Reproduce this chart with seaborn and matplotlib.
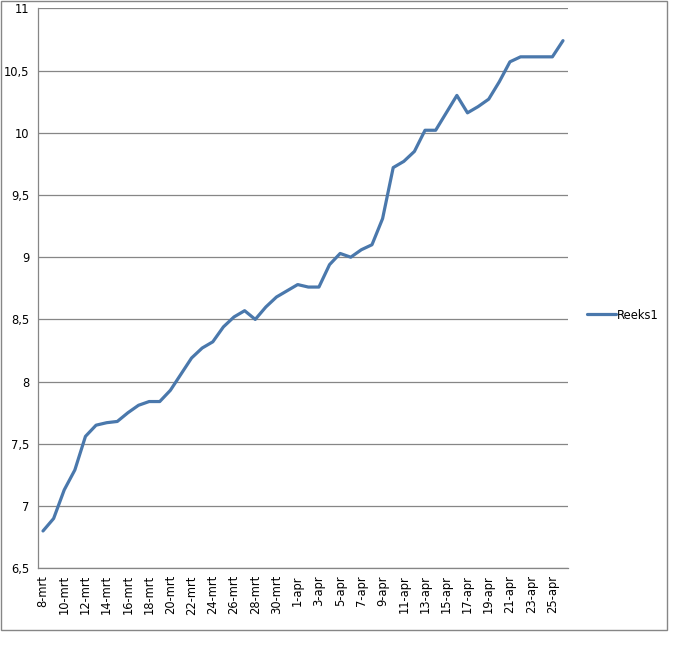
import matplotlib
matplotlib.use("Agg")
import matplotlib.pyplot as plt
import numpy as np
import seaborn as sns
from matplotlib.patches import Rectangle

# days 8-mrt .. 26-apr
days = list(range(8, 32)) + list(range(1, 27))
months = ["mrt"] * 24 + ["apr"] * 26
labels = [f"{d}-{m}" for d, m in zip(days, months)]

values = [6.80, 6.90, 7.13, 7.29, 7.56, 7.65, 7.67, 7.68, 7.75, 7.81,
          7.84, 7.84, 7.93, 8.06, 8.19, 8.27, 8.32, 8.44, 8.52, 8.57,
          8.50, 8.60, 8.68, 8.73, 8.78, 8.76, 8.76, 8.94, 9.03, 9.00,
          9.06, 9.10, 9.31, 9.72, 9.77, 9.85, 10.02, 10.02, 10.16, 10.30,
          10.16, 10.21, 10.27, 10.41, 10.57, 10.61, 10.61, 10.61, 10.61, 10.74]

yticks = [6.5, 7, 7.5, 8, 8.5, 9, 9.5, 10, 10.5, 11]
ytick_labels = ["6,5", "7", "7,5", "8", "8,5", "9", "9,5", "10", "10,5", "11"]

sns.set_style("white")
plt.rcParams["font.family"] = ["DejaVu Sans"]
plt.rcParams["text.color"] = "black"
plt.rcParams["xtick.color"] = "black"
plt.rcParams["ytick.color"] = "black"

grey = "#868686"
fig = plt.figure(figsize=(6.93, 6.48), dpi=100)
ax = fig.add_axes([37.7 / 693, 1 - 568.3 / 648, (568.3 - 37.7) / 693, 560 / 648])

x = np.arange(len(values))
sns.lineplot(x=x, y=values, ax=ax, color="#4A78AC", linewidth=2.3, label="Reeks1", legend=False)

ax.set_xlim(-0.5, len(values) - 0.5)
ax.set_ylim(6.5, 11)
ax.set_yticks(yticks)
ax.set_yticklabels(ytick_labels, fontsize=8.3)
ax.yaxis.grid(True, color=grey, linewidth=0.9)
ax.set_axisbelow(True)

# tick marks between category pairs, labels on every other category
ax.set_xticks(np.arange(-0.5, len(values), 2))
ax.set_xticklabels([])
ax.set_xticks(x[::2], minor=True)
ax.set_xticklabels(labels[::2], minor=True, rotation=90, fontsize=8.3)
ax.tick_params(axis="x", which="major", length=4, color=grey, width=0.9, direction="out")
ax.tick_params(axis="x", which="minor", length=0, pad=5)
ax.tick_params(axis="y", length=4, color=grey, width=0.9, direction="out", pad=2)

for s in ["top", "right"]:
    ax.spines[s].set_visible(False)
for s in ["left", "bottom"]:
    ax.spines[s].set_color(grey)
    ax.spines[s].set_linewidth(0.9)

handles, lbls = ax.get_legend_handles_labels()
fig.legend(handles, lbls, loc="center left", bbox_to_anchor=(577 / 693, 1 - 315 / 648),
           frameon=False, fontsize=8.3, handlelength=2.5, handletextpad=0.05)

fig.patches.append(Rectangle((1 / 693, 18 / 648), 666 / 693, 629 / 648,
                             transform=fig.transFigure, fill=False,
                             edgecolor=grey, linewidth=1))

fig.savefig("out.png", dpi=100)
